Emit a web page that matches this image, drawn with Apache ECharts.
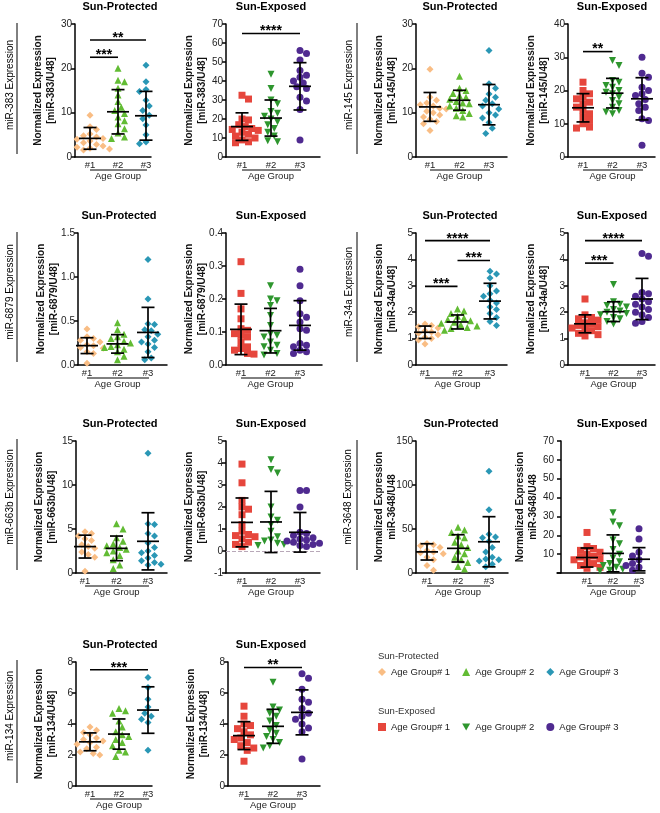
<!DOCTYPE html>
<html><head><meta charset="utf-8">
<script src="https://cdn.jsdelivr.net/npm/echarts@6/dist/echarts.min.js"></script>
<style>html,body{margin:0;padding:0;background:#fff}#c{width:660px;height:813px}</style>
</head><body><div id="c"></div>
<script>
// ---------- labels ----------
const groupLabels = ['#1', '#2', '#3'];
const legendLabels = ['Age Group# 1', 'Age Group# 2', 'Age Group# 3'];

// ---------- data ----------
// each: [group#1 values, group#2 values, group#3 values]; meanSD: [mean, sd] per group
const mir383_SP = [
  [9.4, 6.8, 6.2, 5.2, 4.8, 4.5, 4.2, 4.0, 3.6, 3.2, 2.8, 2.5, 2.2, 2.0, 1.8, 1.6],
  [20, 17.3, 17, 15.5, 14, 12.5, 11.2, 10.5, 9.8, 9, 8.2, 7.5, 6.4, 5.4, 4.5, 4.2],
  [20.7, 17, 15.2, 15, 14.8, 12.8, 11.5, 10.5, 9.4, 8.6, 7.2, 6, 5, 4.4, 3.4, 3.0]];
const mir383_SP_meanSD = [[4.2, 2.45], [10.2, 5.0], [9.3, 5.5]];
const mir383_SE = [
  [32.5, 30.5, 20, 19.5, 17, 16, 15, 14.5, 14, 13, 12, 11, 10, 9, 8, 7.5],
  [43.5, 36, 30, 28, 24, 23, 21.5, 20, 18.5, 17, 15, 13, 11, 8.5, 8],
  [56, 54.5, 51, 45.5, 43, 42, 40, 39, 37, 36, 31.5, 29.5, 25, 9]];
const mir383_SE_meanSD = [[16.0, 7.25], [20.5, 9.5], [37.2, 12.45]];
const mir145_SP = [
  [19.8, 13.5, 12.8, 12.2, 11.8, 11.5, 11, 10.8, 10.3, 10, 9.5, 9, 8.5, 8, 7.5, 6],
  [18.2, 15.5, 15, 14.3, 13.8, 13.5, 13, 12.5, 12.2, 12, 11.5, 11, 10.5, 9.8, 9.3, 9],
  [24, 16.5, 15.5, 14.2, 13.5, 12.8, 12, 11.5, 10.8, 10, 9.5, 8.8, 7.8, 6.5, 5.3]];
const mir145_SP_meanSD = [[11.3, 3.25], [12.8, 2.25], [11.8, 4.55]];
const mir145_SE = [
  [22.5, 20, 19, 18, 17.5, 16.5, 16, 15, 14, 13, 12, 11, 10, 9, 8.7],
  [29, 27.5, 23, 22.5, 21.5, 21, 20, 19.5, 19, 18, 17, 16, 15, 14, 13.5, 13],
  [30, 25.2, 24, 21, 20, 19, 18.5, 17.3, 16, 15, 14, 11.5, 11, 3.5]];
const mir145_SE_meanSD = [[14.8, 4.25], [19.2, 4.45], [17.5, 6.35]];
const mir6879_SP = [
  [0.41, 0.32, 0.3, 0.28, 0.26, 0.25, 0.23, 0.22, 0.2, 0.19, 0.17, 0.15, 0.13, 0.02],
  [0.48, 0.4, 0.35, 0.32, 0.3, 0.27, 0.25, 0.23, 0.21, 0.2, 0.18, 0.15, 0.1, 0.06],
  [1.2, 0.75, 0.47, 0.46, 0.4, 0.39, 0.35, 0.32, 0.28, 0.26, 0.24, 0.2, 0.15, 0.08, 0.06]];
const mir6879_SP_meanSD = [[0.22, 0.09], [0.24, 0.105], [0.37, 0.285]];
const mir6879_SE = [
  [0.313, 0.217, 0.17, 0.14, 0.11, 0.105, 0.095, 0.09, 0.085, 0.07, 0.055, 0.05, 0.045, 0.035, 0.033],
  [0.24, 0.2, 0.195, 0.18, 0.15, 0.12, 0.095, 0.09, 0.085, 0.07, 0.06, 0.055, 0.045, 0.035, 0.03],
  [0.29, 0.24, 0.195, 0.155, 0.145, 0.13, 0.11, 0.105, 0.065, 0.06, 0.055, 0.045, 0.04, 0.035]];
const mir6879_SE_meanSD = [[0.108, 0.0765], [0.104, 0.0675], [0.12, 0.075]];
const mir34a_SP = [
  [1.55, 1.5, 1.45, 1.4, 1.35, 1.3, 1.25, 1.2, 1.15, 1.1, 1.05, 1.0, 0.95, 0.8],
  [2.12, 2.05, 1.95, 1.85, 1.78, 1.72, 1.68, 1.62, 1.58, 1.52, 1.48, 1.42, 1.38, 1.32],
  [3.55, 3.45, 3.3, 3.0, 2.8, 2.7, 2.6, 2.45, 2.35, 2.2, 2.1, 1.95, 1.8, 1.65, 1.5]];
const mir34a_SP_meanSD = [[1.24, 0.235], [1.63, 0.265], [2.42, 0.675]];
const mir34a_SE = [
  [2.5, 1.9, 1.8, 1.75, 1.7, 1.6, 1.55, 1.5, 1.45, 1.4, 1.35, 1.3, 1.2, 1.15, 1.1],
  [3.05, 2.4, 2.3, 2.25, 2.2, 2.1, 2.05, 2.0, 1.95, 1.9, 1.8, 1.75, 1.65, 1.55],
  [4.22, 4.12, 2.75, 2.7, 2.6, 2.5, 2.4, 2.3, 2.2, 2.1, 2.0, 1.9, 1.8, 1.65, 1.58]];
const mir34a_SE_meanSD = [[1.56, 0.34], [2.02, 0.375], [2.5, 0.78]];
const mir663b_SP = [
  [4.7, 4.5, 4.2, 3.9, 3.7, 3.5, 3.2, 3.0, 2.8, 2.6, 2.4, 2.1, 1.8, 0.2],
  [5.6, 5.0, 4.0, 3.6, 3.3, 3.1, 2.9, 2.7, 2.5, 2.3, 2.0, 1.5, 0.9, 0.5],
  [13.6, 5.6, 5.5, 4.5, 4.2, 3.4, 2.9, 2.5, 2.3, 2.0, 1.7, 1.4, 1.2, 1.0, 0.9]];
const mir663b_SP_meanSD = [[3.0, 1.3], [2.8, 1.4], [3.6, 3.25]];
const mir663b_SE = [
  [3.95, 3.1, 2.3, 2.0, 1.9, 1.65, 1.2, 0.9, 0.75, 0.7, 0.65, 0.55, 0.4, 0.3, 0.2],
  [4.15, 3.7, 3.55, 2.0, 1.55, 1.4, 1.2, 0.9, 0.65, 0.5, 0.45, 0.35, 0.3, 0.25],
  [2.75, 2.75, 2.0, 0.85, 0.8, 0.7, 0.6, 0.55, 0.5, 0.45, 0.4, 0.35, 0.3, 0.25, 0.2]];
const mir663b_SE_meanSD = [[1.3, 1.11], [1.32, 1.39], [0.85, 0.9]];
const mir3648_SP = [
  [33.5, 32, 31, 29, 27, 25.5, 24, 23, 22, 20, 18, 15, 8.5, 3],
  [52, 49, 46, 42, 40, 35, 32, 29, 25, 22, 18, 15, 12, 7.5, 4.5],
  [115.5, 72, 44, 41, 40, 36, 29, 24, 18, 16, 15, 13.5, 10, 7]];
const mir3648_SP_meanSD = [[24, 9.25], [28, 15.5], [35.5, 28.5]];
const mir3648_SE = [
  [21.5, 14, 13, 12, 11, 10, 9, 8.5, 7.5, 7, 6, 5, 4, 3, 2.5],
  [32, 27, 25, 17.5, 15.5, 12.5, 10, 8, 6, 5, 4, 3, 2, 1.5, 1],
  [23.5, 18, 11, 10, 9, 8, 7, 6, 5, 4.5, 4, 3, 2.5, 2, 1.5]];
const mir3648_SE_meanSD = [[8.2, 5.05], [10.4, 9.8], [7.3, 6.15]];
const mir134_SP = [
  [3.8, 3.6, 3.45, 3.3, 3.1, 3.0, 2.9, 2.8, 2.7, 2.5, 2.4, 2.2, 2.1, 2.0],
  [5.0, 4.85, 4.7, 4.2, 3.8, 3.5, 3.3, 3.2, 3.0, 2.8, 2.6, 2.3, 2.2, 1.9],
  [7.0, 6.9, 6.35, 6.2, 5.6, 5.1, 4.9, 4.7, 4.5, 4.3, 4.1, 3.9, 2.3, 2.25]];
const mir134_SP_meanSD = [[2.85, 0.575], [3.35, 0.975], [4.9, 1.5]];
const mir134_SE = [
  [5.15, 4.5, 4.0, 3.9, 3.7, 3.5, 3.3, 3.1, 3.0, 2.8, 2.6, 2.45, 2.3, 1.6],
  [6.7, 5.1, 4.9, 4.7, 4.5, 4.2, 3.9, 3.6, 3.4, 3.2, 3.0, 2.8, 2.6, 2.45],
  [7.25, 6.95, 6.25, 5.6, 5.4, 5.0, 4.7, 4.5, 4.3, 4.0, 3.75, 3.5, 1.75]];
const mir134_SE_meanSD = [[3.25, 0.9], [3.85, 1.1], [4.75, 1.45]];

// significance brackets: [fromGroup, toGroup, y, stars]
const mir383_SP_sig = [[1, 2, 22.5, 3], [1, 3, 26.4, 2]];
const mir383_SE_sig = [[1, 3, 65, 4]];
const mir145_SE_sig = [[1, 2, 31.7, 2]];
const mir34a_SP_sig = [[1, 2, 2.98, 3], [2, 3, 3.96, 3], [1, 3, 4.71, 4]];
const mir34a_SE_sig = [[1, 2, 3.86, 3], [1, 3, 4.71, 4]];
const mir134_SP_sig = [[1, 3, 7.5, 3]];
const mir134_SE_sig = [[1, 3, 7.65, 2]];

// ---------- styling / layout ----------
const FONT = '"Liberation Sans", Arial, Helvetica, sans-serif';
const kindStyle = {
  SP: {title: 'Sun-Protected', colors: ['#F9BD84', '#62BC34', '#2A97B5'], symbols: ['diamond', 'triangle', 'diamond']},
  SE: {title: 'Sun-Exposed', colors: ['#E6463C', '#2E962E', '#4F2A90'], symbols: ['rect', 'path://M0,0 L10,0 L5,9 Z', 'circle']}
};
const panels = [
  {kind: 'SP', vals: mir383_SP, ms: mir383_SP_meanSD, sig: mir383_SP_sig, yname: '[miR-383/U48]', min: 0, max: 30, iv: 10, L: 75, R: 151, T: 24, B: 157, c1: 90, c3: 146, tx: 120},
  {kind: 'SE', vals: mir383_SE, ms: mir383_SE_meanSD, sig: mir383_SE_sig, yname: '[miR-383/U48]', min: 0, max: 70, iv: 10, L: 226, R: 320, T: 24, B: 157, c1: 242, c3: 300, tx: 271},
  {kind: 'SP', vals: mir145_SP, ms: mir145_SP_meanSD, sig: [], yname: '[miR-145/U48]', min: 0, max: 30, iv: 10, L: 416, R: 507, T: 24, B: 157, c1: 430, c3: 489, tx: 460},
  {kind: 'SE', vals: mir145_SE, ms: mir145_SE_meanSD, sig: mir145_SE_sig, yname: '[miR-145/U48]', min: 0, max: 40, iv: 10, L: 568, R: 655, T: 24, B: 157, c1: 583, c3: 642, tx: 612},
  {kind: 'SP', vals: mir6879_SP, ms: mir6879_SP_meanSD, sig: [], yname: '[miR-6879/U48]', min: 0, max: 1.5, iv: 0.5, dec: 1, L: 78, R: 167, T: 233, B: 365, c1: 87, c3: 148, tx: 119},
  {kind: 'SE', vals: mir6879_SE, ms: mir6879_SE_meanSD, sig: [], yname: '[miR-6879/U48]', min: 0, max: 0.4, iv: 0.1, dec: 1, L: 226, R: 322, T: 233, B: 365, c1: 241, c3: 300, tx: 271},
  {kind: 'SP', vals: mir34a_SP, ms: mir34a_SP_meanSD, sig: mir34a_SP_sig, yname: '[miR-34a/U48]', min: 0, max: 5, iv: 1, L: 416, R: 507, T: 233, B: 365, c1: 425, c3: 490, tx: 460},
  {kind: 'SE', vals: mir34a_SE, ms: mir34a_SE_meanSD, sig: mir34a_SE_sig, yname: '[miR-34a/U48]', min: 0, max: 5, iv: 1, L: 568, R: 655, T: 233, B: 365, c1: 585, c3: 642, tx: 612},
  {kind: 'SP', vals: mir663b_SP, ms: mir663b_SP_meanSD, sig: [], yname: '[miR-663b/U48]', min: 0, max: 15, iv: 5, L: 76, R: 167, T: 441, B: 573, c1: 85, c3: 148, tx: 120},
  {kind: 'SE', vals: mir663b_SE, ms: mir663b_SE_meanSD, sig: [], yname: '[miR-663b/U48]', min: -1, max: 5, iv: 1, zeroLine: true, L: 226, R: 320, T: 441, B: 573, c1: 242, c3: 300, tx: 271},
  {kind: 'SP', vals: mir3648_SP, ms: mir3648_SP_meanSD, sig: [], yname: 'miR-3648/U48', min: 0, max: 150, iv: 50, L: 416, R: 508, T: 441, B: 573, c1: 427, c3: 489, tx: 461},
  {kind: 'SE', vals: mir3648_SE, ms: mir3648_SE_meanSD, sig: [], yname: 'miR-3648/U48', min: 0, max: 70, iv: 10, hideZero: true, L: 557, R: 645, T: 441, B: 573, c1: 587, c3: 639, tx: 612},
  {kind: 'SP', vals: mir134_SP, ms: mir134_SP_meanSD, sig: mir134_SP_sig, yname: '[miR-134/U48]', min: 0, max: 8, iv: 2, L: 76, R: 152, T: 662, B: 786, c1: 90, c3: 148, tx: 120},
  {kind: 'SE', vals: mir134_SE, ms: mir134_SE_meanSD, sig: mir134_SE_sig, yname: '[miR-134/U48]', min: 0, max: 8, iv: 2, L: 228, R: 320, T: 662, B: 786, c1: 244, c3: 302, tx: 271}
];
const rowLabels = [
  {text: 'miR-383 Expression', x: 10, y: 85, lx: 17, y1: 23, y2: 154},
  {text: 'miR-145 Expression', x: 349, y: 85, lx: 357, y1: 23, y2: 154},
  {text: 'miR-6879 Expression', x: 10, y: 292, lx: 17, y1: 232, y2: 362},
  {text: 'miR-34a Expression', x: 349, y: 292, lx: 357, y1: 232, y2: 362},
  {text: 'miR-663b Expression', x: 10, y: 497, lx: 17, y1: 439, y2: 570},
  {text: 'miR-3648 Expression', x: 348, y: 497, lx: 357, y1: 440, y2: 570},
  {text: 'miR-134 Expression', x: 10, y: 716, lx: 17, y1: 660, y2: 783}
];

function swarmOffsets(vals, ppu, step) {
  const order = vals.map((v, i) => i).sort((a, b) => vals[b] - vals[a]);
  const placed = [], offs = new Array(vals.length).fill(0);
  const cands = [0];
  for (let k = 1; k < 16; k++) cands.push(k * step / 2, -k * step / 2);
  order.forEach(i => {
    const y = vals[i] * ppu;
    for (const o of cands) {
      if (placed.every(q => Math.hypot(q[0] - o, q[1] - y) >= step)) { offs[i] = o; placed.push([o, y]); break; }
    }
  });
  return offs;
}

function renderErr(params, api) {
  const x = api.value(0), m = api.value(1), s = api.value(2);
  const pm = api.coord([x, m]), pu = api.coord([x, m + s]), pl = api.coord([x, m - s]);
  const st = {stroke: '#000', lineWidth: 1.7};
  return {type: 'group', children: [
    {type: 'line', shape: {x1: pm[0] - 11, y1: pm[1], x2: pm[0] + 11, y2: pm[1]}, style: st},
    {type: 'line', shape: {x1: pu[0], y1: pu[1], x2: pl[0], y2: pl[1]}, style: st},
    {type: 'line', shape: {x1: pu[0] - 6.5, y1: pu[1], x2: pu[0] + 6.5, y2: pu[1]}, style: st},
    {type: 'line', shape: {x1: pl[0] - 6.5, y1: pl[1], x2: pl[0] + 6.5, y2: pl[1]}, style: st}
  ]};
}
function renderSig(params, api) {
  const a = api.coord([api.value(0), api.value(2)]), b = api.coord([api.value(1), api.value(2)]);
  return {type: 'group', children: [
    {type: 'line', shape: {x1: a[0], y1: a[1], x2: b[0], y2: b[1]}, style: {stroke: '#000', lineWidth: 1.6}},
    {type: 'text', x: (a[0] + b[0]) / 2, y: a[1] - 2, style: {text: '*'.repeat(api.value(3)), fill: '#000', font: 'bold 14px ' + FONT, align: 'center', verticalAlign: 'middle'}}
  ]};
}

const grids = [], xAxes = [], yAxes = [], series = [], graphics = [];
panels.forEach((p, i) => {
  const ks = kindStyle[p.kind];
  const sp = (p.c3 - p.c1) / 2;
  grids.push({left: p.L, top: p.T, width: p.R - p.L, height: p.B - p.T, containLabel: false, outerBoundsMode: 'none'});
  xAxes.push({
    type: 'value', gridIndex: i, min: 1 - (p.c1 - p.L) / sp, max: 3 + (p.R - p.c3) / sp,
    axisLine: {show: true, onZero: false, lineStyle: {color: '#000', width: 1.5}},
    axisTick: {show: false}, splitLine: {show: false},
    axisLabel: {customValues: [1, 2, 3], formatter: v => groupLabels[Math.round(v) - 1], fontSize: 9.5, color: '#222', margin: 3, fontFamily: FONT}
  });
  yAxes.push({
    type: 'value', gridIndex: i, min: p.min, max: p.max, interval: p.iv,
    axisLine: {show: true, lineStyle: {color: '#000', width: 1.5}},
    axisTick: {show: true, length: 4, lineStyle: {color: '#000', width: 1.5}},
    splitLine: {show: false},
    axisLabel: {fontSize: 10, color: '#222', margin: 3, fontFamily: FONT,
      formatter: v => (p.hideZero && v === 0) ? '' : (p.dec ? v.toFixed(p.dec) : String(v))},
    name: 'Normalized Expression\n' + p.yname, nameLocation: 'middle', nameGap: 17, nameMoveOverlap: false,
    nameTextStyle: {fontWeight: 'bold', fontSize: 10, lineHeight: 13, color: '#111', fontFamily: FONT}
  });
  const ppu = (p.B - p.T) / (p.max - p.min);
  p.vals.forEach((vals, g) => {
    const offs = swarmOffsets(vals, ppu, 6.5);
    const s = {
      type: 'scatter', name: p.kind + ':' + legendLabels[g], xAxisIndex: i, yAxisIndex: i,
      data: vals.map((v, j) => [g + 1 + offs[j] / sp, v]),
      symbol: ks.symbols[g], symbolSize: 7, itemStyle: {color: ks.colors[g], opacity: 1}, z: 2, silent: true
    };
    if (p.zeroLine && g === 0) {
      s.markLine = {silent: true, symbol: 'none', label: {show: false}, data: [{yAxis: 0}],
        lineStyle: {type: 'dashed', color: '#b8a8b8', width: 1}};
    }
    series.push(s);
  });
  series.push({type: 'custom', xAxisIndex: i, yAxisIndex: i, renderItem: renderErr, z: 5, silent: true,
    encode: {x: 0, y: 1}, data: p.ms.map((d, g) => [g + 1, d[0], d[1]])});
  if (p.sig.length) {
    series.push({type: 'custom', xAxisIndex: i, yAxisIndex: i, renderItem: renderSig, z: 5, silent: true,
      encode: {x: 0, y: 2}, data: p.sig});
  }
  // panel title
  graphics.push({type: 'text', x: p.tx, y: p.T - 17, style: {text: ks.title, font: 'bold 11px ' + FONT, fill: '#000', align: 'center', verticalAlign: 'middle'}});
  // group underline and axis title
  const c2 = (p.c1 + p.c3) / 2;
  graphics.push({type: 'line', shape: {x1: p.c1, y1: p.B + 13, x2: p.c3 + 1, y2: p.B + 13}, style: {stroke: '#000', lineWidth: 1}});
  graphics.push({type: 'text', x: c2, y: p.B + 19, style: {text: 'Age Group', font: '9.5px ' + FONT, fill: '#222', align: 'center', verticalAlign: 'middle'}});
});

rowLabels.forEach(r => {
  graphics.push({type: 'text', x: r.x, y: r.y, rotation: Math.PI / 2,
    style: {text: r.text, font: '10px ' + FONT, fill: '#000', align: 'center', verticalAlign: 'middle'}});
  graphics.push({type: 'line', shape: {x1: r.lx, y1: r.y1, x2: r.lx, y2: r.y2}, style: {stroke: '#000', lineWidth: 1}});
});
graphics.push({type: 'text', x: 378, y: 656, style: {text: 'Sun-Protected', font: '9.5px ' + FONT, fill: '#333', verticalAlign: 'middle'}});
graphics.push({type: 'text', x: 378, y: 711, style: {text: 'Sun-Exposed', font: '9.5px ' + FONT, fill: '#333', verticalAlign: 'middle'}});

const legendBase = {orient: 'horizontal', itemWidth: 8, itemHeight: 8, itemGap: 12, padding: 0, selectedMode: false,
  formatter: n => n.split(':')[1], textStyle: {fontSize: 9.5, color: '#222', fontFamily: FONT}};
const chart = echarts.init(document.getElementById('c'), null, {renderer: 'canvas'});
chart.setOption({
  animation: false,
  backgroundColor: '#fff',
  textStyle: {fontFamily: FONT},
  grid: grids, xAxis: xAxes, yAxis: yAxes, series: series,
  legend: [
    Object.assign({}, legendBase, {left: 378, top: 667, data: legendLabels.map(l => 'SP:' + l)}),
    Object.assign({}, legendBase, {left: 378, top: 722, data: legendLabels.map(l => 'SE:' + l)})
  ],
  graphic: graphics
});
</script>
</body></html>
